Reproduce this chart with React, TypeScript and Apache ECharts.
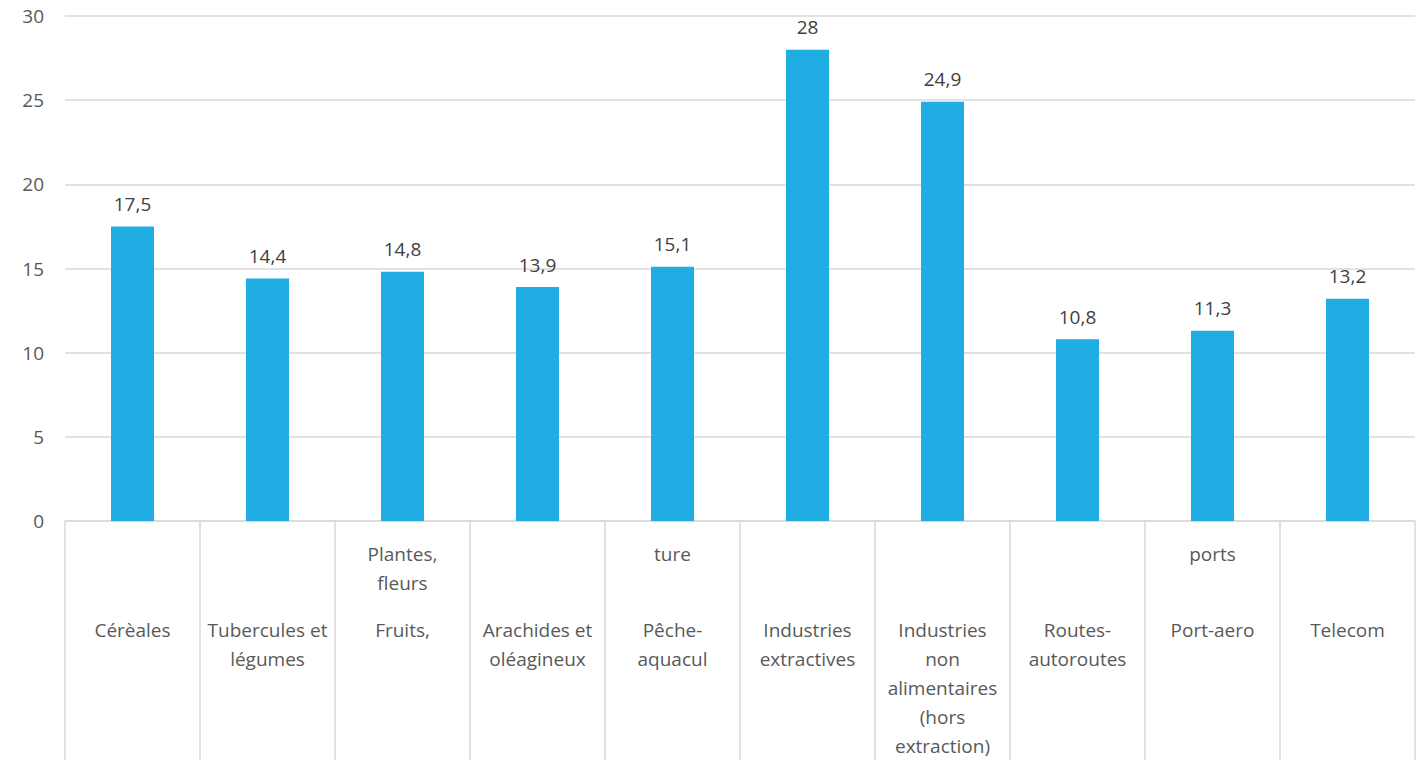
import React, { useEffect, useRef } from "react";
import * as echarts from "echarts";

const categories = [
  "Cérèales",
  "Tubercules et légumes",
  "Fruits, Plantes, fleurs",
  "Arachides et oléagineux",
  "Pêche-aquaculture",
  "Industries extractives",
  "Industries non alimentaires (hors extraction)",
  "Routes-autoroutes",
  "Port-aero ports",
  "Telecom",
];

const mainLabels = [
  "Cérèales",
  "Tubercules et\nlégumes",
  "Fruits,",
  "Arachides et\noléagineux",
  "Pêche-\naquacul",
  "Industries\nextractives",
  "Industries\nnon\nalimentaires\n(hors\nextraction)",
  "Routes-\nautoroutes",
  "Port-aero",
  "Telecom",
];

const overflowLabels = ["", "", "Plantes,\nfleurs", "", "ture", "", "", "", "ports", ""];

const values = [17.5, 14.4, 14.8, 13.9, 15.1, 28, 24.9, 10.8, 11.3, 13.2];

const yTicks = { min: 0, max: 30, interval: 5 };

const FONT = "'Open Sans', Lato, sans-serif";

export default function App() {
  const ref = useRef<HTMLDivElement>(null);
  useEffect(() => {
    if (!ref.current) return;
    const chart = echarts.init(ref.current, null, { renderer: "svg" });
    chart.setOption({
      animation: false,
      textStyle: { fontFamily: FONT },
      grid: { left: 65, right: 13, top: 16, bottom: 237, containLabel: false },
      xAxis: [
        {
          type: "category",
          data: categories,
          axisLine: { show: true, lineStyle: { color: "#d9d9d9", width: 1.5 } },
          axisTick: { show: true, length: 240, lineStyle: { color: "#d9d9d9", width: 1.5 } },
          axisLabel: {
            interval: 0,
            margin: 94,
            color: "#595959",
            fontSize: 19,
            lineHeight: 29,
            fontFamily: FONT,
            verticalAlign: "top",
            formatter: (_v: string, i: number) => mainLabels[i],
          },
        },
        {
          type: "category",
          position: "bottom",
          data: categories,
          axisLine: { show: false },
          axisTick: { show: false },
          axisLabel: {
            interval: 0,
            margin: 18,
            color: "#595959",
            fontSize: 19,
            lineHeight: 29,
            fontFamily: FONT,
            verticalAlign: "top",
            formatter: (_v: string, i: number) => overflowLabels[i],
          },
        },
      ],
      yAxis: {
        type: "value",
        min: yTicks.min,
        max: yTicks.max,
        interval: yTicks.interval,
        axisLine: { show: false },
        axisTick: { show: false },
        splitLine: { lineStyle: { color: "#d9d9d9", width: 1.5 } },
        axisLabel: { color: "#595959", fontSize: 19, margin: 21, fontFamily: FONT },
      },
      series: [
        {
          type: "bar",
          xAxisIndex: 0,
          data: values,
          barWidth: 43,
          itemStyle: { color: "#1FADE4" },
          label: {
            show: true,
            position: "top",
            distance: 13,
            color: "#404040",
            fontSize: 19,
            fontFamily: FONT,
            formatter: (p: any) => String(p.value).replace(".", ","),
          },
        },
      ],
    });
    return () => chart.dispose();
  }, []);
  return (
    <div
      ref={ref}
      style={{ position: "absolute", left: 0, top: 0, width: 1428, height: 760, background: "#fff" }}
    />
  );
}
